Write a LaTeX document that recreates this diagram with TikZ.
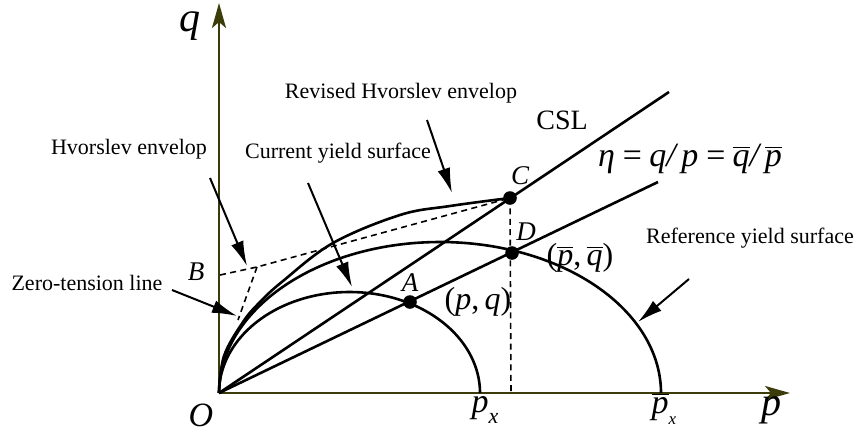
\documentclass[tikz,border=0pt]{standalone}
\usepackage{fontspec}
\setmainfont{Liberation Serif}
\usetikzlibrary{arrows.meta}
\definecolor{axisc}{RGB}{60,60,10}
\newcommand{\ob}[1]{\ensuremath{\overline{\mbox{\itshape #1}}}}
\begin{document}
\begin{tikzpicture}[x=0.5pt,y=-0.5pt,line join=round,
  curve/.style={line width=1.3pt},
  dsh/.style={line width=0.8pt,dash pattern=on 3pt off 2.2pt},
  pointer/.style={line width=1pt,-{Latex[length=12.5pt,width=6.5pt]}},
  axisline/.style={line width=1.3pt,draw=axisc,-{Stealth[length=12.5pt,width=7pt,inset=3pt,fill=axisc]}},
  dot/.style={circle,fill=black,inner sep=0pt,minimum size=6.8pt},
  lbl/.style={font=\fontsize{11}{13}\selectfont,inner sep=0pt},
  ptl/.style={font=\fontsize{13.5}{15}\selectfont\itshape,inner sep=0pt},
  big/.style={font=\fontsize{16}{18}\selectfont,inner sep=0pt}]
\useasboundingbox (0,0) rectangle (861,434);

% key coordinates
\coordinate (O) at (219,393);
\coordinate (qtip) at (219,3);
\coordinate (ptip) at (790,393);
\coordinate (Bp) at (220,275);
\coordinate (K) at (257,267);
\coordinate (Kend) at (238,320);
\coordinate (cslend) at (669,92);
\coordinate (etaend) at (658,182);
\coordinate (Dfoot) at (511,393);

% axes
\draw[axisline] (O) -- (qtip);
\draw[axisline] (O) -- (ptip);

% yield surfaces
\draw[curve] plot[domain=180:0,samples=120] ({349.5+130.5*cos(\x)},{393-101*sin(\x)});
\draw[curve] plot[domain=180:0,samples=150] ({440+221*cos(\x)},{393-151*sin(\x)});

% revised Hvorslev envelope
\draw[curve] plot[smooth,tension=0.6] coordinates {(219,393) (224,356) (243,322) (260,302) (283,281) (333,243) (400,215) (450,206) (510,198)};

% lines
\draw[curve] (O) -- (cslend);
\draw[curve] (O) -- (etaend);

% dashed
\draw[dsh] (Bp) -- (K) -- (510,198);
\draw[dsh] (K) -- (Kend);
\draw[dsh] (510,198) -- (Dfoot);

% points
\node[dot] (A) at (410,302) {};
\node[dot] (C) at (510,198) {};
\node[dot] (D) at (512,253) {};

% point labels
\node[ptl] (Al) at (410,283) {A};
\node[ptl] (Bl) at (196,272) {B};
\node[ptl] (Cl) at (520,176) {C};
\node[ptl] (Dl) at (526,232) {D};
\node[big] (pq) at (478,302) {(\textit{p},\,\textit{q})};
\node[big] (pqb) at (580,258) {(\ob{p},\,\ob{q})};

% axis labels
\node[big,font=\fontsize{17}{19}\selectfont\itshape] (Ol) at (201,415) {O};
\node[big,font=\fontsize{21}{23}\selectfont\itshape] (ql) at (190,26) {q};
\node[big,font=\fontsize{20}{22}\selectfont\itshape] (pl) at (771,410) {p};
\node[big,font=\fontsize{17}{19}\selectfont\itshape] (pxl) at (485,410) {p\raisebox{-0.3em}{\fontsize{11}{11}\selectfont x}};
\node[big,font=\fontsize{17}{19}\selectfont\itshape] (pxbl) at (664,409) {\ob{p}\raisebox{-0.35em}{\fontsize{8.5}{8.5}\selectfont x}};

% text labels
\node[lbl] (rev) at (401,93) {Revised Hvorslev envelop};
\node[lbl] (cur) at (338,153) {Current yield surface};
\node[lbl] (hv) at (129,149) {Hvorslev envelop};
\node[lbl] (zt) at (87,283) {Zero-tension line};
\node[lbl] (ref) at (750,238) {Reference yield surface};
\node[inner sep=0pt,font=\fontsize{14}{16}\selectfont] (csl) at (562,120) {CSL};
\node[inner sep=0pt,font=\fontsize{17}{20}\selectfont\itshape] (eta) at (690,159) {η\,=\,q/\,p\,=\,\ob{q}/\,\ob{p}};

% pointers
\coordinate (revS) at (427,120); \coordinate (revE) at (452,193);
\coordinate (curS) at (308,183); \coordinate (curE) at (352,287);
\coordinate (hvS) at (210,178);  \coordinate (hvE) at (247,266);
\coordinate (ztS) at (172,290);  \coordinate (ztE) at (237,316);
\coordinate (refS) at (689,279); \coordinate (refE) at (638,322);
\draw[pointer] (revS) -- (revE);
\draw[pointer] (curS) -- (curE);
\draw[pointer] (hvS) -- (hvE);
\draw[pointer] (ztS) -- (ztE);
\draw[pointer] (refS) -- (refE);
\end{tikzpicture}
\end{document}
